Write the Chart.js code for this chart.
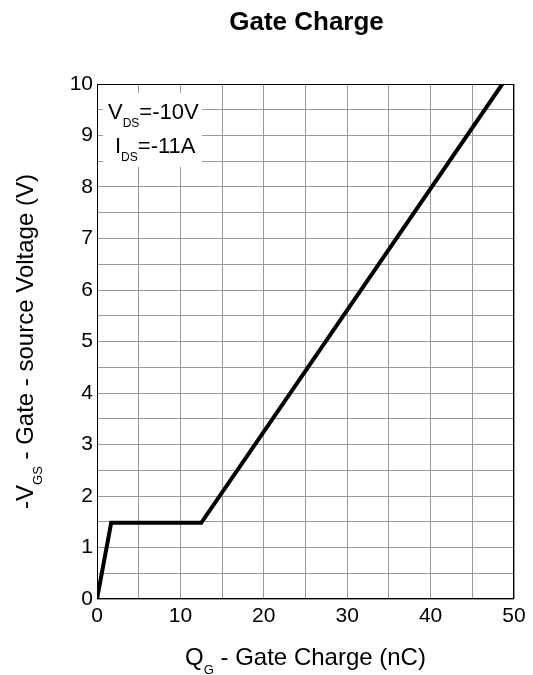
<!DOCTYPE html>
<html>
<head>
<meta charset="utf-8">
<script src="https://cdn.jsdelivr.net/npm/chart.js@4.4.0/dist/chart.umd.min.js"></script>
<style>
  html, body { margin: 0; padding: 0; background: #fff; }
  #wrap { width: 533px; height: 675px; }
</style>
</head>
<body>
<div id="wrap"><canvas id="myChart" width="533" height="675"></canvas></div>
<script>
const FONT = "'Liberation Sans', Arial, sans-serif";

// curve
const qg = [0, 1.7, 12.5, 48.6];
const vgs = [0, 1.48, 1.48, 10];

const xTicks = [0, 10, 20, 30, 40, 50];
const yTicks = [0, 1, 2, 3, 4, 5, 6, 7, 8, 9, 10];

const points = qg.map((q, i) => ({ x: q, y: vgs[i] }));

// draws text made of [text, isSubscript] parts
function drawParts(c, parts, x, y, size, align) {
  const subSize = Math.round(size * 0.55);
  let total = 0;
  parts.forEach((p) => {
    c.font = (p[1] ? subSize : size) + "px " + FONT;
    total += c.measureText(p[0]).width;
  });
  let cx = align === "center" ? x - total / 2 : x;
  c.textAlign = "left";
  c.textBaseline = "alphabetic";
  parts.forEach((p) => {
    c.font = (p[1] ? subSize : size) + "px " + FONT;
    c.fillText(p[0], cx, p[1] ? y + size * 0.37 : y);
    cx += c.measureText(p[0]).width;
  });
}

const decor = {
  id: "decor",
  afterDatasetsDraw(chart) {
    const c = chart.ctx;
    const a = chart.chartArea;
    c.save();
    c.strokeStyle = "#000";
    c.lineWidth = 1;
    c.strokeRect(a.left + 0.5, a.top + 0.5, a.right - a.left - 1, a.bottom - a.top - 1);

    // condition box
    c.fillStyle = "#fff";
    c.fillRect(a.left + 6, a.top + 9, 99, 74);
    c.fillStyle = "#000";
    drawParts(c, [["V", false], ["DS", true], ["=-10V", false]], a.left + 11, a.top + 35, 22, "left");
    drawParts(c, [["I", false], ["DS", true], ["=-11A", false]], a.left + 18, a.top + 69, 22, "left");
    c.restore();
  },
  afterDraw(chart) {
    const c = chart.ctx;
    const a = chart.chartArea;
    const mid = (a.left + a.right) / 2;
    c.save();
    c.fillStyle = "#000";
    c.font = "bold 26px " + FONT;
    c.textAlign = "center";
    c.textBaseline = "alphabetic";
    c.fillText("Gate Charge", mid + 1, 30);

    drawParts(c, [["Q", false], ["G", true], [" - Gate Charge (nC)", false]], mid, 665, 24, "center");

    c.translate(33, (a.top + a.bottom) / 2);
    c.rotate(-Math.PI / 2);
    drawParts(c, [["-V", false], ["GS", true], [" - Gate - source Voltage (V)", false]], 0, 0, 24, "center");
    c.restore();
  },
};

new Chart(document.getElementById("myChart"), {
  type: "line",
  data: {
    datasets: [
      {
        data: points,
        borderColor: "#000",
        borderWidth: 4,
        pointRadius: 0,
        tension: 0,
        fill: false,
      },
    ],
  },
  options: {
    responsive: false,
    animation: false,
    layout: { padding: { top: 84, right: 19, left: 0, bottom: 0 } },
    plugins: {
      legend: { display: false },
      tooltip: { enabled: false },
    },
    scales: {
      x: {
        type: "linear",
        min: 0,
        max: 50,
        afterFit: (s) => { s.height = 76; },
        afterBuildTicks: (s) => {
          s.ticks = [];
          for (let v = 0; v <= 50; v += 5) s.ticks.push({ value: v });
        },
        grid: { color: "#999", lineWidth: 1, drawTicks: false },
        border: { display: false },
        ticks: {
          autoSkip: false,
          maxRotation: 0,
          padding: 5,
          color: "#000",
          font: { family: FONT, size: 21 },
          callback: (v) => (xTicks.includes(v) ? v : ""),
        },
      },
      y: {
        min: 0,
        max: 10,
        afterFit: (s) => { s.width = 97; },
        afterBuildTicks: (s) => {
          s.ticks = [];
          for (let v = 0; v <= 10; v += 0.5) s.ticks.push({ value: v });
        },
        grid: { color: "#999", lineWidth: 1, drawTicks: false },
        border: { display: false },
        ticks: {
          autoSkip: false,
          padding: 4,
          color: "#000",
          font: { family: FONT, size: 21 },
          callback: (v) => (yTicks.includes(v) ? v : ""),
        },
      },
    },
  },
  plugins: [decor],
});
</script>
</body>
</html>
